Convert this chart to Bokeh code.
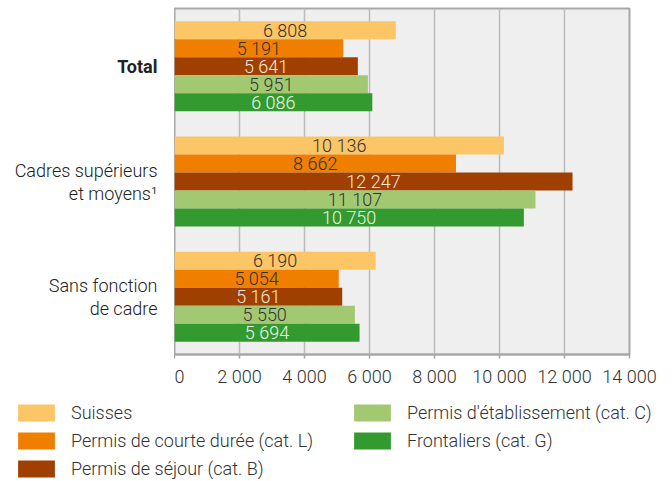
from bokeh.plotting import figure
from bokeh.layouts import row, column
from bokeh.models import Range1d, FixedTicker, Legend, LegendItem, ColumnDataSource
from bokeh.core.properties import value
from bokeh.embed import file_html
from bokeh.resources import INLINE

# ---- data ----
categories = ["Total", "Cadres supérieurs et moyens¹", "Sans fonction de cadre"]
category_lines = [["Total"], ["Cadres supérieurs", "et moyens¹"], ["Sans fonction", "de cadre"]]
series_names = ["Suisses", "Permis de courte durée (cat. L)", "Permis de séjour (cat. B)",
                "Permis d'établissement (cat. C)", "Frontaliers (cat. G)"]
suisses = [6808, 10136, 6190]
courte_duree = [5191, 8662, 5054]
sejour = [5641, 12247, 5161]
etablissement = [5951, 11107, 5550]
frontaliers = [6086, 10750, 5694]
x_ticks = [0, 2000, 4000, 6000, 8000, 10000, 12000, 14000]

series_values = [suisses, courte_duree, sejour, etablissement, frontaliers]
colors = ["#FCC666", "#F07F00", "#A04000", "#A2C972", "#339A2F"]
text_colors = ["#333333", "#333333", "#F5E6DC", "#333333", "#EAF5E6"]

FONT = "Roboto Light"
FS = "18px"

def fmt(v):
    return f"{v:,}".replace(",", " ")

cat_pos = [2.5, 1.5, 0.5]
bar_h = 0.156
yr = Range1d(0, 3)

# ---- main chart ----
p = figure(frame_width=455, frame_height=346, output_backend="svg", toolbar_location=None,
           x_range=Range1d(0, 14000), y_range=yr, y_axis_location=None,
           min_border_left=0, min_border_right=40, min_border_top=8, min_border_bottom=36)
p.background_fill_color = "#EFEFEF"
p.border_fill_color = "white"
p.outline_line_color = "#A8A8A8"
p.outline_line_width = 2
p.ygrid.visible = False
p.xgrid.grid_line_color = "#BBBBBB"
p.xgrid.grid_line_width = 1.5

xa = p.xaxis[0]
xa.ticker = FixedTicker(ticks=x_ticks)
xa.major_label_overrides = {t: fmt(t) for t in x_ticks}
xa.axis_line_color = "#A8A8A8"
xa.axis_line_width = 2
xa.major_tick_line_color = "#A8A8A8"
xa.major_tick_line_width = 1.5
xa.major_tick_in = 0
xa.major_tick_out = 4
xa.minor_tick_line_color = None
xa.major_label_text_font = FONT
xa.major_label_text_font_size = FS
xa.major_label_text_color = "#333333"
xa.major_label_standoff = 7

for k, (vals, col, tcol) in enumerate(zip(series_values, colors, text_colors)):
    ys = [c + (2 - k) * bar_h for c in cat_pos]
    src = ColumnDataSource(dict(y=ys, right=vals, mid=[v / 2 for v in vals],
                                txt=[fmt(v) for v in vals]))
    p.hbar(y="y", right="right", left=0, height=bar_h, source=src,
           fill_color=col, line_color=None)
    p.text(x="mid", y="y", text="txt", source=src, text_align="center",
           text_baseline="middle", text_color=tcol, text_font=value(FONT),
           text_font_size=FS)

# ---- category labels (left strip sharing the y scale) ----
lab = figure(frame_width=174, frame_height=346, output_backend="svg", toolbar_location=None,
             x_range=Range1d(0, 1), y_range=yr, x_axis_location=None, y_axis_location=None,
             min_border_left=0, min_border_right=0, min_border_top=8, min_border_bottom=36)
lab.outline_line_color = None
lab.grid.visible = False
for c, lines in zip(cat_pos, category_lines):
    n = len(lines)
    for j, line in enumerate(lines):
        off = (j - (n - 1) / 2) * 23
        bold = (n == 1)
        lab.text(x=[1], y=[c], text=[line], x_offset=-17, y_offset=off,
                 text_align="right", text_baseline="middle",
                 text_font=value("Roboto" if bold else FONT),
                 text_font_style="bold" if bold else "normal",
                 text_font_size=FS, text_color="#222222")

# ---- legend strip ----
leg = figure(width=669, height=90, output_backend="svg", toolbar_location=None,
             x_range=Range1d(0, 1), y_range=Range1d(0, 1), x_axis_location=None,
             y_axis_location=None, min_border=0, min_border_left=0, min_border_right=0,
             min_border_top=0, min_border_bottom=0)
leg.outline_line_color = None
leg.grid.visible = False
leg_r = []
for col in colors:
    leg_r.append(leg.hbar(y=[-5], right=[1], left=0, height=0.1, fill_color=col, line_color=None))

leg_kw = dict(orientation="vertical", glyph_width=46, glyph_height=21, label_height=21,
              label_text_font=FONT, label_text_font_size=FS, label_text_color="#333333",
              label_standoff=12, spacing=7, padding=0, margin=0,
              border_line_alpha=0, background_fill_alpha=0)
leg1 = Legend(items=[LegendItem(label=series_names[i], renderers=[leg_r[i]]) for i in range(3)],
              location=(13, 1), **leg_kw)
leg2 = Legend(items=[LegendItem(label=series_names[i], renderers=[leg_r[i]]) for i in range(3, 5)],
              location=(349, 29), **leg_kw)
leg.add_layout(leg1)
leg.add_layout(leg2)

layout = column(row(lab, p, spacing=0), leg, spacing=0)
open("out.html", "w").write(file_html(layout, INLINE))
